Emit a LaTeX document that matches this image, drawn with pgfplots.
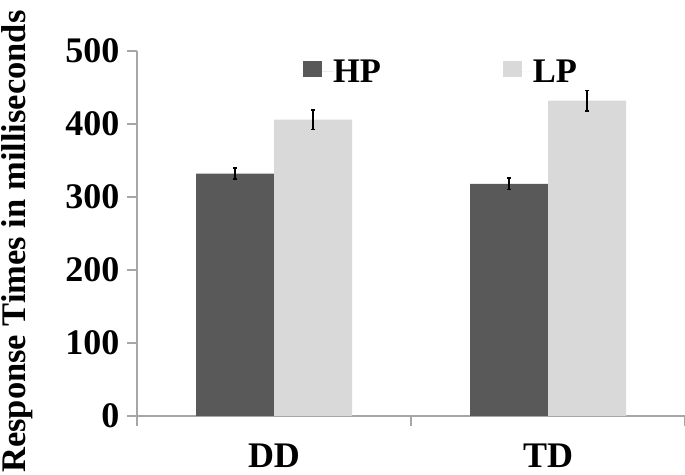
\documentclass[border=0pt]{standalone}
\usepackage{pgfplots}
\pgfplotsset{compat=1.18}
\usepackage{fontspec}
\setmainfont{Liberation Serif}
\definecolor{hpcol}{HTML}{595959}
\definecolor{lpcol}{HTML}{D9D9D9}
\definecolor{axcol}{HTML}{A6A6A6}
\newcommand{\bigf}{\fontsize{36bp}{36bp}\selectfont\bfseries}
\begin{document}
\begin{tikzpicture}
\useasboundingbox (0,0) rectangle (685bp,475bp);
\begin{axis}[
  at={(137bp,59bp)}, anchor=south west,
  scale only axis, width=548bp, height=365bp,
  xmin=-0.5, xmax=1.5, ymin=0, ymax=500,
  axis x line*=bottom, axis y line*=left,
  axis line style={axcol, line width=1.2bp, -},
  tick align=outside, major tick length=10bp,
  tick style={axcol, line width=1.2bp},
  xtick={-0.5,0.5,1.5}, xticklabels={},
  extra x ticks={0,1}, extra x tick labels={DD,TD},
  extra x tick style={tick style={draw=none}},
  ytick={0,100,...,500},
  /pgf/number format/assume math mode=true,
  ticklabel style={font=\bigf, text=black},
  yticklabel style={anchor=east, inner sep=0pt, xshift=-7.5bp},
  xticklabel style={anchor=base, inner sep=0pt, yshift=-41bp},
  every axis y label/.style={at={(axis description cs:-0.2026,-0.156)}, anchor=base west, rotate=90, font=\fontsize{34.5bp}{34.5bp}\selectfont\bfseries, inner sep=0pt},
  ylabel={Response Times in milliseconds},
  ybar=0pt, bar width=78bp,
  legend columns=2,
  legend cell align=left,
  legend style={draw=none, fill=none, at={(0.303,0.975)}, anchor=north west, inner sep=0pt, outer sep=0pt, font=\fontsize{34.5bp}{34.5bp}\selectfont\bfseries, nodes={inner sep=0pt, text depth=0pt}, /tikz/every even column/.append style={column sep=122bp}},
  legend image code/.code={\path (0bp,0bp) -- (30bp,0bp); \fill[#1] (0bp,-5.5bp) rectangle (19bp,10.8bp);},
]
\addplot[fill=hpcol, draw=none,
  error bars/.cd, y dir=both, y explicit,
  error bar style={black, line width=1.5bp},
  error mark options={black, rotate=90, mark size=2bp, line width=1.5bp}]
  coordinates {(0,332) +- (0,7.5) (1,318) +- (0,8)};
\addplot[fill=lpcol, draw=none,
  error bars/.cd, y dir=both, y explicit,
  error bar style={black, line width=1.5bp},
  error mark options={black, rotate=90, mark size=2bp, line width=1.5bp}]
  coordinates {(0,406) +- (0,13.5) (1,432) +- (0,14)};
\legend{HP,LP}
\end{axis}
\end{tikzpicture}
\end{document}
